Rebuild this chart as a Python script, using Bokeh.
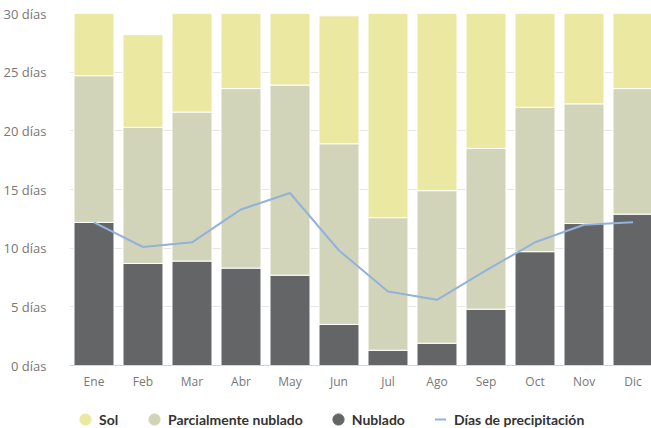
from bokeh.plotting import figure
from bokeh.layouts import column
from bokeh.models import Range1d, FixedTicker, Legend, LegendItem, ColumnDataSource
from bokeh.embed import file_html
from bokeh.resources import INLINE

months = ["Ene", "Feb", "Mar", "Abr", "May", "Jun", "Jul", "Ago", "Sep", "Oct", "Nov", "Dic"]
nublado = [12.2, 8.7, 8.9, 8.3, 7.7, 3.5, 1.3, 1.9, 4.8, 9.7, 12.1, 12.9]
parcial = [12.5, 11.6, 12.7, 15.3, 16.2, 15.4, 11.3, 13.0, 13.7, 12.3, 10.2, 10.7]
sol = [6.3, 7.9, 9.4, 6.4, 7.1, 10.9, 18.4, 16.1, 11.5, 9.0, 7.7, 7.4]
precip = [12.2, 10.1, 10.5, 13.3, 14.7, 9.8, 6.3, 5.6, 8.1, 10.5, 12.0, 12.2]
y_ticks = [0, 5, 10, 15, 20, 25, 30]
y_labels = ["0 días", "5 días", "10 días", "15 días", "20 días", "25 días", "30 días"]

C_SOL = "#ebe8a1"
C_PAR = "#d2d4b9"
C_NUB = "#646567"
C_LINE = "#92b2db"

x = list(range(len(months)))
src = ColumnDataSource(dict(x=x, nublado=nublado, parcial=parcial, sol=sol, precip=precip))

p = figure(width=651, height=392, output_backend="svg", toolbar_location=None,
           x_range=Range1d(-0.5, -0.5 + 582 / 49), y_range=Range1d(0, 30),
           min_border_left=69, min_border_right=0, min_border_top=13, min_border_bottom=27)
p.outline_line_color = None
p.background_fill_color = "white"

p.vbar_stack(["nublado", "parcial", "sol"], x="x", width=0.816, source=src,
             color=[C_NUB, C_PAR, C_SOL], line_color="white", line_width=1)
p.line("x", "precip", source=src, line_color=C_LINE, line_width=2)

p.xgrid.grid_line_color = None
p.ygrid.grid_line_color = "#e6e6e6"
p.ygrid.ticker = FixedTicker(ticks=y_ticks)

p.yaxis.ticker = FixedTicker(ticks=y_ticks)
p.yaxis.major_label_overrides = {t: l for t, l in zip(y_ticks, y_labels)}
p.yaxis.axis_line_color = None
p.yaxis.major_tick_line_color = None
p.yaxis.minor_tick_line_color = None
p.yaxis.major_label_text_font = "Open Sans"
p.yaxis.major_label_text_font_size = "13px"
p.yaxis.major_label_text_color = "#777777"
p.yaxis.major_label_standoff = 17

p.xaxis.ticker = FixedTicker(ticks=x)
p.xaxis.major_label_overrides = {i: m for i, m in enumerate(months)}
p.xaxis.axis_line_color = "#ccd6eb"
p.xaxis.major_tick_line_color = None
p.xaxis.minor_tick_line_color = None
p.xaxis.major_label_text_font = "Open Sans"
p.xaxis.major_label_text_font_size = "12px"
p.xaxis.major_label_text_color = "#777777"
p.xaxis.major_label_standoff = 1

# legend strip
nan = float("nan")
p2 = figure(width=651, height=36, output_backend="svg", toolbar_location=None,
            x_range=Range1d(0, 1), y_range=Range1d(0, 1),
            min_border_left=0, min_border_right=0, min_border_top=0, min_border_bottom=0)
p2.outline_line_color = None
p2.axis.visible = False
p2.grid.visible = False
d_sol = p2.scatter([nan], [nan], marker="circle", color=C_SOL)
d_par = p2.scatter([nan], [nan], marker="circle", color=C_PAR)
d_nub = p2.scatter([nan], [nan], marker="circle", color=C_NUB)
d_line = p2.scatter([nan], [nan], marker="dash", line_color=C_LINE, line_width=2)

lg = Legend(items=[LegendItem(label="Sol", renderers=[d_sol]),
                   LegendItem(label="Parcialmente nublado", renderers=[d_par]),
                   LegendItem(label="Nublado", renderers=[d_nub]),
                   LegendItem(label="Días de precipitación", renderers=[d_line])],
            orientation="horizontal", location=(2, -5),
            glyph_width=28, glyph_height=28, label_standoff=0, spacing=21)
lg.border_line_color = None
lg.background_fill_alpha = 0
lg.padding = 0
lg.margin = 0
lg.label_text_font = "Lato"
lg.label_text_font_style = "bold"
lg.label_text_font_size = "14px"
lg.label_text_color = "#333333"
p2.add_layout(lg)

open("out.html", "w").write(file_html(column(p, p2, spacing=0), INLINE))
